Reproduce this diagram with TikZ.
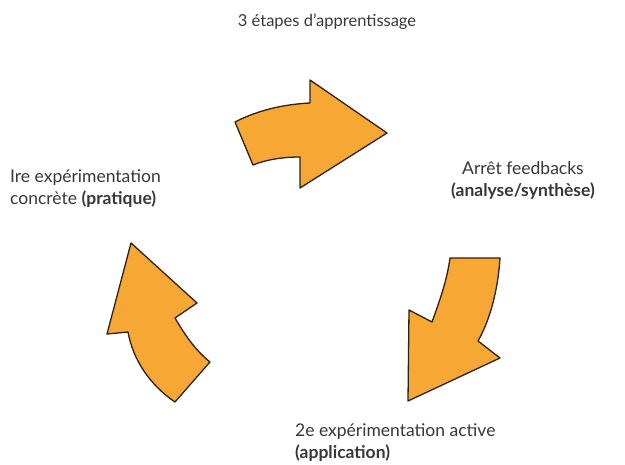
\documentclass[tikz,border=0pt]{standalone}
\usepackage{fontspec}
\setmainfont{Lato}
\definecolor{arrowfill}{RGB}{247,168,52}
\definecolor{arrowline}{RGB}{45,32,22}
\definecolor{textgray}{RGB}{55,55,55}
\begin{document}
\begin{tikzpicture}[x=1pt,y=-1pt,
    cyclearrow/.style={fill=arrowfill, draw=arrowline, line width=1.3pt, line join=round},
    steplabel/.style={text=textgray, font=\fontsize{17.5}{22}\selectfont, inner sep=0pt}]

      \useasboundingbox (0,0) rectangle (625,465);

      % title
      \node[text=textgray, font=\fontsize{16.5}{20}\selectfont] (title) at (327,22) {3 étapes d'apprentissage};

      % the three arrows of the cycle
      \path[cyclearrow] (235,122) .. controls (262,108) and (290,104) .. (310,103)
        -- (310,80) -- (387,133) -- (300,188) -- (300,157)
        .. controls (282,157) and (265,160) .. (253,165) -- cycle;
      \path[cyclearrow] (450,258) -- (500,258)
        .. controls (498,290) and (490,320) .. (478,341)
        -- (500,358) -- (408,401) -- (409,310) -- (432,322)
        .. controls (440,300) and (447,280) .. cycle;
      \path[cyclearrow] (131,243) -- (197,303) -- (175,318)
        .. controls (185,335) and (195,350) .. (210,362) -- (175,402)
        .. controls (150,385) and (133,360) .. (128,332) -- (107,334) -- cycle;

      \begin{scope}[every node/.style={steplabel}]
        \node[align=left, anchor=west] (1) at (10,189) {Ire expérimentation\\concrète \textbf{(pratique)}};
        \node[align=center] (2) at (523,181) {Arrêt feedbacks\\\textbf{(analyse/synthèse)}};
        \node[align=left, anchor=west] (3) at (295,443) {2e expérimentation active\\\textbf{(application)}};
      \end{scope}

    \end{tikzpicture}
\end{document}
